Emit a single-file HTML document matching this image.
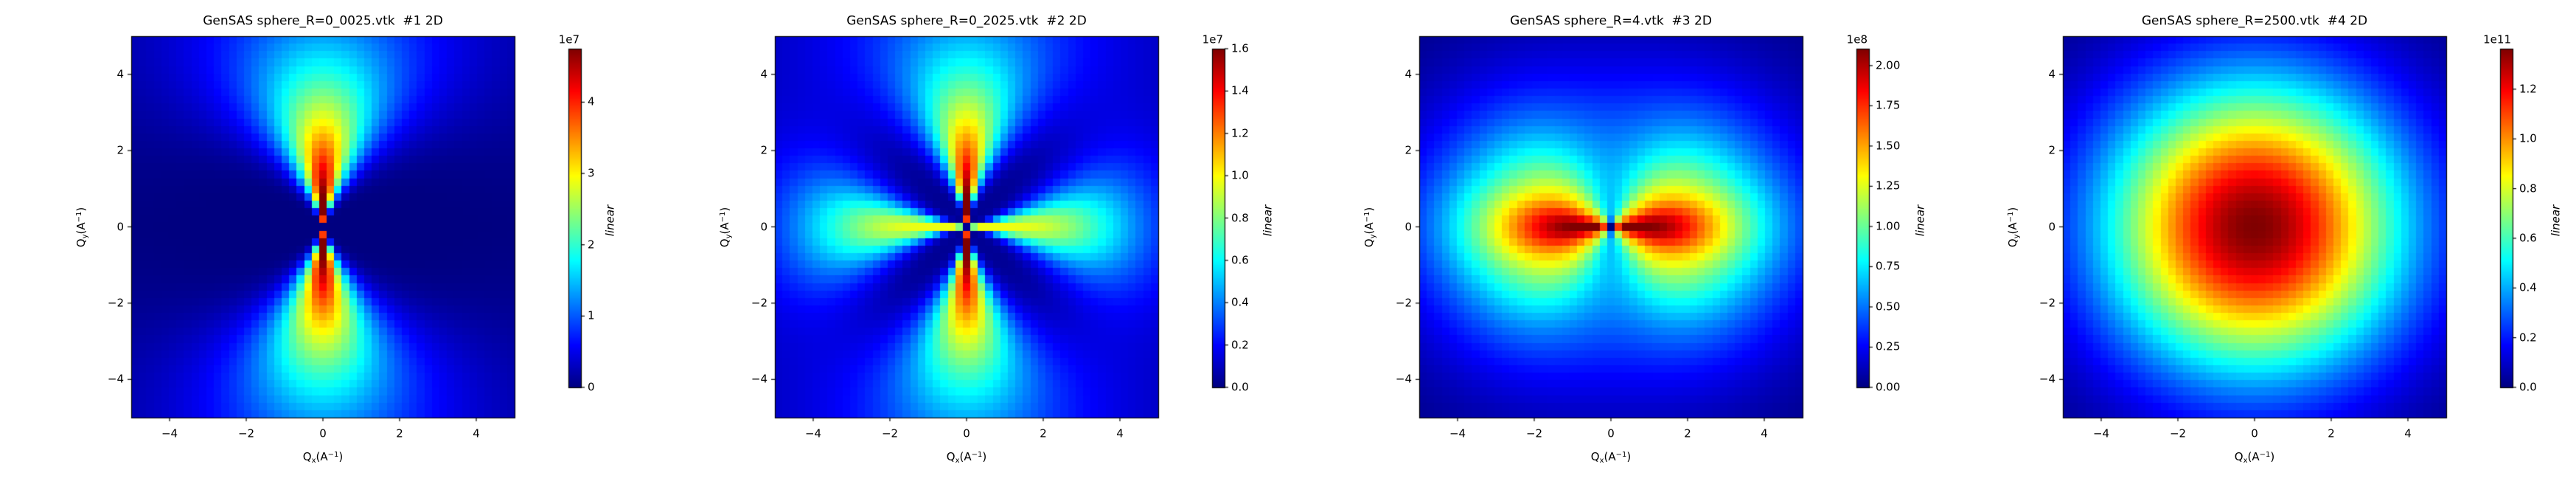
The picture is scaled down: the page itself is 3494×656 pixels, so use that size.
<!DOCTYPE html>
<html><head><meta charset="utf-8"><style>
html,body{margin:0;padding:0;background:#fff;width:3494px;height:656px;overflow:hidden}
#c{position:absolute;left:0;top:0}
.p{position:absolute;top:0;width:900px;height:656px}
.p div{position:absolute;font-family:"DejaVu Sans","Liberation Sans",sans-serif;color:#000;white-space:nowrap;line-height:1}
.ti{left:438px;top:29px;font-size:17px;transform:translate(-50%,-50%)}
.xt{top:588px;font-size:15px;transform:translate(-50%,-50%)}
.yt{right:732px;font-size:15px;transform:translateY(-50%)}
.xl{left:438px;top:621px;font-size:15px;transform:translate(-50%,-50%)}
.yl{left:112px;top:308px;font-size:15px;transform:translate(-50%,-50%) rotate(-90deg)}
.cl{left:797px;font-size:15px;transform:translateY(-50%)}
.ex{left:786px;top:54px;font-size:15px;transform:translate(-100%,-50%)}
.ln{top:299px;font-size:15px;font-style:italic;transform:translate(-50%,-50%) rotate(-90deg)}
sup{font-size:10px;vertical-align:5px}
sub{font-size:10px;vertical-align:-3px}
</style></head><body>
<canvas id="c" width="3494" height="656"></canvas>

<div class="p" style="left:0px">
<div class="ti">GenSAS sphere_R=0_0025.vtk&nbsp; #1 2D</div>
<div class="xt" style="left:230px">−4</div><div class="xt" style="left:334px">−2</div><div class="xt" style="left:438px">0</div><div class="xt" style="left:542px">2</div><div class="xt" style="left:646px">4</div>
<div class="yt" style="top:101px">4</div><div class="yt" style="top:204px">2</div><div class="yt" style="top:308px">0</div><div class="yt" style="top:411px">−2</div><div class="yt" style="top:514px">−4</div>
<div class="xl">Q<sub>x</sub>(A<sup>−1</sup>)</div><div class="yl">Q<sub>y</sub>(A<sup>−1</sup>)</div>
<div class="ex">1e7</div><div class="ln" style="left:828px">linear</div>
<div class="cl" style="top:525px">0</div><div class="cl" style="top:428px">1</div><div class="cl" style="top:332px">2</div><div class="cl" style="top:235px">3</div><div class="cl" style="top:138px">4</div>
</div>

<div class="p" style="left:873px">
<div class="ti">GenSAS sphere_R=0_2025.vtk&nbsp; #2 2D</div>
<div class="xt" style="left:230px">−4</div><div class="xt" style="left:334px">−2</div><div class="xt" style="left:438px">0</div><div class="xt" style="left:542px">2</div><div class="xt" style="left:646px">4</div>
<div class="yt" style="top:101px">4</div><div class="yt" style="top:204px">2</div><div class="yt" style="top:308px">0</div><div class="yt" style="top:411px">−2</div><div class="yt" style="top:514px">−4</div>
<div class="xl">Q<sub>x</sub>(A<sup>−1</sup>)</div><div class="yl">Q<sub>y</sub>(A<sup>−1</sup>)</div>
<div class="ex">1e7</div><div class="ln" style="left:847px">linear</div>
<div class="cl" style="top:525px">0.0</div><div class="cl" style="top:468px">0.2</div><div class="cl" style="top:410px">0.4</div><div class="cl" style="top:353px">0.6</div><div class="cl" style="top:296px">0.8</div><div class="cl" style="top:238px">1.0</div><div class="cl" style="top:181px">1.2</div><div class="cl" style="top:123px">1.4</div><div class="cl" style="top:66px">1.6</div>
</div>

<div class="p" style="left:1747px">
<div class="ti">GenSAS sphere_R=4.vtk&nbsp; #3 2D</div>
<div class="xt" style="left:230px">−4</div><div class="xt" style="left:334px">−2</div><div class="xt" style="left:438px">0</div><div class="xt" style="left:542px">2</div><div class="xt" style="left:646px">4</div>
<div class="yt" style="top:101px">4</div><div class="yt" style="top:204px">2</div><div class="yt" style="top:308px">0</div><div class="yt" style="top:411px">−2</div><div class="yt" style="top:514px">−4</div>
<div class="xl">Q<sub>x</sub>(A<sup>−1</sup>)</div><div class="yl">Q<sub>y</sub>(A<sup>−1</sup>)</div>
<div class="ex">1e8</div><div class="ln" style="left:858px">linear</div>
<div class="cl" style="top:525px">0.00</div><div class="cl" style="top:470px">0.25</div><div class="cl" style="top:416px">0.50</div><div class="cl" style="top:361px">0.75</div><div class="cl" style="top:307px">1.00</div><div class="cl" style="top:252px">1.25</div><div class="cl" style="top:198px">1.50</div><div class="cl" style="top:143px">1.75</div><div class="cl" style="top:89px">2.00</div>
</div>

<div class="p" style="left:2620px">
<div class="ti">GenSAS sphere_R=2500.vtk&nbsp; #4 2D</div>
<div class="xt" style="left:230px">−4</div><div class="xt" style="left:334px">−2</div><div class="xt" style="left:438px">0</div><div class="xt" style="left:542px">2</div><div class="xt" style="left:646px">4</div>
<div class="yt" style="top:101px">4</div><div class="yt" style="top:204px">2</div><div class="yt" style="top:308px">0</div><div class="yt" style="top:411px">−2</div><div class="yt" style="top:514px">−4</div>
<div class="xl">Q<sub>x</sub>(A<sup>−1</sup>)</div><div class="yl">Q<sub>y</sub>(A<sup>−1</sup>)</div>
<div class="ex">1e11</div><div class="ln" style="left:847px">linear</div>
<div class="cl" style="top:525px">0.0</div><div class="cl" style="top:458px">0.2</div><div class="cl" style="top:390px">0.4</div><div class="cl" style="top:323px">0.6</div><div class="cl" style="top:256px">0.8</div><div class="cl" style="top:188px">1.0</div><div class="cl" style="top:121px">1.2</div>
</div>

<script>
var cv=document.getElementById('c'),g=cv.getContext('2d');
function cl(v){return Math.max(0,Math.min(1,v));}
function jet(v){v=cl(v);var r=cl(1.5-Math.abs(4*v-3)),gg=cl(1.5-Math.abs(4*v-2)),b=cl(1.5-Math.abs(4*v-1));
return 'rgb('+Math.round(r*255)+','+Math.round(gg*255)+','+Math.round(b*255)+')';}
function core(r){return 1-Math.exp(-Math.pow(r/0.15,2));}
function R1(r){return Math.exp(-Math.pow(Math.max(0,r-0.8)/3.5,1.3))*core(r);}
var F=[
function(x,y){var r=Math.hypot(x,y),th=Math.atan2(Math.abs(x),Math.abs(y));var w=0.3+0.08*r;return R1(r)*Math.exp(-Math.pow(th/w,2));},
function(x,y){var r=Math.hypot(x,y),ty=Math.atan2(Math.abs(x),Math.abs(y)),tx=Math.atan2(Math.abs(y),Math.abs(x));
var w=0.18+0.09*r,w2=0.22+0.07*r;
var V=R1(r)*Math.exp(-Math.pow(ty/w,2));
var H=0.6*Math.exp(-Math.pow(Math.max(0,r-1)/3.57,2.32))*core(r)*Math.exp(-Math.pow(tx/w2,2));
return V+H+0.02;},
function(x,y){var r=Math.hypot(x,y);var c2=r>0?x*x/(r*r):0;
var R=Math.exp(-Math.pow(Math.max(0,r-1)/3.0,1.7))*core(r);
return R*(0.32+0.5*c2+0.18*Math.pow(c2,10));},
function(x,y){var r=Math.hypot(x,y*1.03);return Math.exp(-Math.pow(r/3.8,2));}
];
var N=51,L=[178,1051,1925,2798],T=49,W=520,Hh=517;
for(var p=0;p<4;p++){
 var vals=[],mx=0;
 for(var j=0;j<N;j++)for(var i=0;i<N;i++){var x=-5+(i+0.5)*10/N,y=5-(j+0.5)*10/N;var v=F[p](x,y);vals.push(v);if(v>mx)mx=v;}
 for(var j=0;j<N;j++)for(var i=0;i<N;i++){
  var x0=Math.round(L[p]+i*W/N),x1=Math.round(L[p]+(i+1)*W/N),y0=Math.round(T+j*Hh/N),y1=Math.round(T+(j+1)*Hh/N);
  g.fillStyle=jet(vals[j*N+i]/mx);g.fillRect(x0,y0,x1-x0,y1-y0);}
 g.strokeStyle='#000';g.lineWidth=1.2;g.strokeRect(L[p]+0.5,T+0.5,W,Hh);
 for(var v=-4;v<=4;v+=2){var xx=L[p]+(v+5)*W/10;g.beginPath();g.moveTo(xx,T+Hh);g.lineTo(xx,T+Hh+5);g.stroke();
  var yy=T+(5-v)*Hh/10;g.beginPath();g.moveTo(L[p],yy);g.lineTo(L[p]-5,yy);g.stroke();}
 var cx=L[p]+593,cw=17,ct=66,cb=525;
 for(var k=ct;k<cb;k++){g.fillStyle=jet((cb-k)/(cb-ct));g.fillRect(cx,k,cw,1);}
 g.strokeRect(cx+0.5,ct+0.5,cw,cb-ct);
}
var ct2=[[0,1,2,3,4,4.75],[0,.2,.4,.6,.8,1,1.2,1.4,1.6,1.6],[0,.25,.5,.75,1,1.25,1.5,1.75,2,2.105],[0,.2,.4,.6,.8,1,1.2,1.363]];
for(var p=0;p<4;p++){var a=ct2[p],m=a[a.length-1];for(var k=0;k<a.length-1;k++){var yy=525-a[k]/m*459;
 g.beginPath();g.moveTo(L[p]+610,yy);g.lineTo(L[p]+615,yy);g.stroke();}}
</script>
</body></html>
